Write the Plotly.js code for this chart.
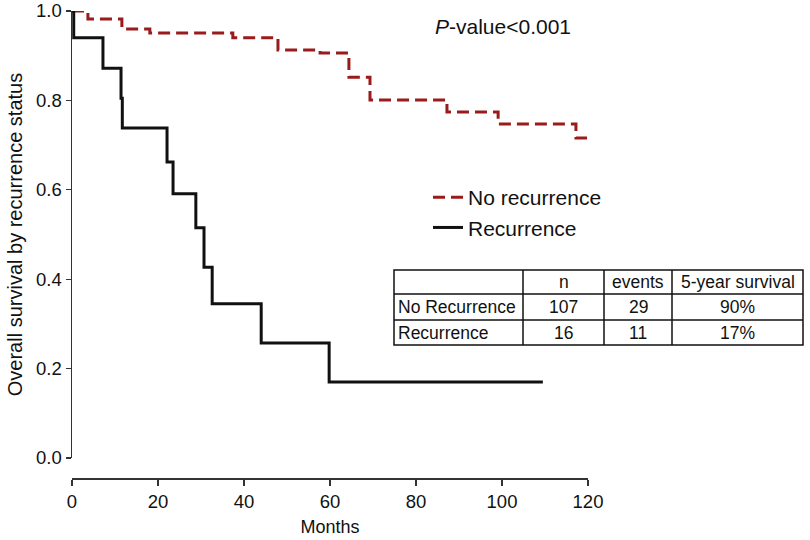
<!DOCTYPE html>
<html>
<head>
<meta charset="utf-8">
<script src="https://cdn.plot.ly/plotly-3.0.1.min.js"></script>
<style>html,body{margin:0;padding:0;background:#fff;}#chart{width:810px;height:540px;}</style>
</head>
<body>
<div id="chart"></div>
<script>
// ---- data ----
const monthsNoRec = [0, 3.7, 11.6, 18.1, 37.4, 47.9, 57.7, 64.4, 69.3, 87.2, 99.1, 117.2, 120];
const survNoRec   = [1.0, 0.982, 0.96, 0.951, 0.94, 0.913, 0.906, 0.852, 0.801, 0.774, 0.747, 0.716, 0.716];
const monthsRec   = [0, 0.4, 7.2, 11.4, 11.7, 22.1, 23.5, 28.8, 30.7, 32.6, 44.0, 59.8, 109.5];
const survRec     = [1.0, 0.94, 0.872, 0.805, 0.738, 0.662, 0.591, 0.515, 0.427, 0.345, 0.257, 0.170, 0.170];
const seriesNames = ["No recurrence", "Recurrence"];
const xTicks = [0, 20, 40, 60, 80, 100, 120];
const yTicks = [0, 0.2, 0.4, 0.6, 0.8, 1.0];
const tableHeader = ["", "n", "events", "5-year survival"];
const tableRow1 = ["No Recurrence", "107", "29", "90%"];
const tableRow2 = ["Recurrence", "16", "11", "17%"];
const pValueText = "<i>P</i>-value&lt;0.001";

// ---- geometry helpers (pixel -> paper) ----
const W = 810, H = 540;
const M = {l: 72, r: 222, t: 11, b: 62};
const PW = W - M.l - M.r, PH = H - M.t - M.b;
const px = x => (x - M.l) / PW;
const py = y => (H - M.b - y) / PH;
const FONT = "Liberation Sans, Arial, sans-serif";
const INK = "#111";

const traces = [
  {x: monthsNoRec, y: survNoRec, name: seriesNames[0], type: "scatter", mode: "lines",
   line: {shape: "hv", color: "#9a1b1b", width: 3, dash: "12px,6px"}, cliponaxis: false},
  {x: monthsRec, y: survRec, name: seriesNames[1], type: "scatter", mode: "lines",
   line: {shape: "hv", color: INK, width: 3}, cliponaxis: false}
];

// table
const colEdges = [394, 523, 604, 672, 803];
const rowEdges = [270, 294, 320, 345];
const shapes = [];
shapes.push({type: "rect", xref: "paper", yref: "paper", x0: px(colEdges[0]), x1: px(colEdges[4]),
  y0: py(rowEdges[0]), y1: py(rowEdges[3]), line: {color: INK, width: 1.5}});
for (let i = 1; i < rowEdges.length - 1; i++) {
  shapes.push({type: "line", xref: "paper", yref: "paper", x0: px(colEdges[0]), x1: px(colEdges[4]),
    y0: py(rowEdges[i]), y1: py(rowEdges[i]), line: {color: INK, width: 1.5}});
}
for (let j = 1; j < colEdges.length - 1; j++) {
  shapes.push({type: "line", xref: "paper", yref: "paper", x0: px(colEdges[j]), x1: px(colEdges[j]),
    y0: py(rowEdges[0]), y1: py(rowEdges[3]), line: {color: INK, width: 1.5}});
}
const annotations = [];
[tableHeader, tableRow1, tableRow2].forEach((row, r) => {
  const yc = (rowEdges[r] + rowEdges[r + 1]) / 2;
  row.forEach((txt, c) => {
    if (!txt) return;
    const left = c === 0;
    annotations.push({xref: "paper", yref: "paper", showarrow: false, text: txt,
      x: left ? px(colEdges[0] + 2) : px((colEdges[c] + colEdges[c + 1]) / 2),
      xanchor: left ? "left" : "center", y: py(yc), yanchor: "middle",
      font: {family: FONT, size: 17.5, color: INK}});
  });
});
annotations.push({xref: "paper", yref: "paper", showarrow: false, text: pValueText,
  x: px(503), y: py(26), xanchor: "center", yanchor: "middle",
  font: {family: FONT, size: 21, color: INK}});

const axisCommon = {showline: true, linecolor: "#333", linewidth: 1.5, ticks: "outside",
  tickcolor: "#333", tickwidth: 1.2, showgrid: false, zeroline: false,
  tickfont: {family: FONT, size: 18.5, color: INK}};

const layout = {
  width: W, height: H, margin: M, paper_bgcolor: "#fff", plot_bgcolor: "#fff",
  font: {family: FONT, color: INK},
  showlegend: true,
  legend: {x: px(428), y: py(177), xanchor: "left", yanchor: "top", bgcolor: "rgba(0,0,0,0)",
    font: {family: FONT, size: 21, color: INK}, tracegroupgap: 0},
  xaxis: Object.assign({}, axisCommon, {range: [0, 120], tickvals: xTicks, ticklen: 6,
    anchor: "free", position: 0,
    title: {text: "Months", font: {family: FONT, size: 18, color: INK}, standoff: 9}}),
  yaxis: Object.assign({}, axisCommon, {range: [0, 1], domain: [py(458), 1], tickvals: yTicks,
    tickformat: ".1f", ticklen: 5,
    title: {text: "Overall survival by recurrence status", font: {family: FONT, size: 20, color: INK}, standoff: 8}}),
  shapes: shapes,
  annotations: annotations
};

Plotly.newPlot("chart", traces, layout, {displayModeBar: false, staticPlot: true});
</script>
</body>
</html>
